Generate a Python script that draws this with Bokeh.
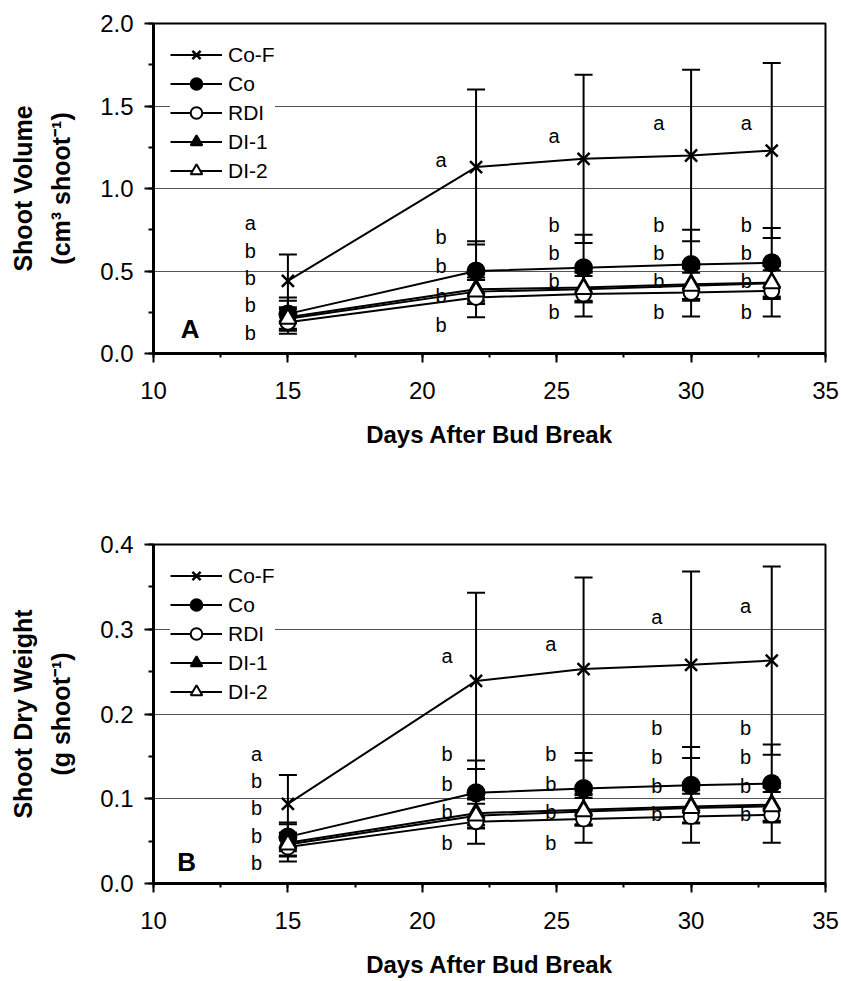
from bokeh.plotting import figure
from bokeh.models import (ColumnDataSource, Whisker, TeeHead, Legend, LegendItem, Range1d,
                          SingleIntervalTicker, NumeralTickFormatter)
from bokeh.layouts import column
from bokeh.embed import file_html
from bokeh.resources import INLINE
from bokeh.core.properties import value

FONT = "Liberation Sans"

days = [15, 22, 26, 30, 33]
series_names = ["Co-F", "Co", "RDI", "DI-1", "DI-2"]

# Panel A: shoot volume (cm3 shoot-1)
vol_cof = [0.44, 1.13, 1.18, 1.20, 1.23]
vol_cof_err = [0.16, 0.47, 0.51, 0.52, 0.53]
vol_co = [0.24, 0.50, 0.52, 0.54, 0.55]
vol_co_err = [0.10, 0.18, 0.20, 0.21, 0.21]
vol_rdi = [0.19, 0.34, 0.36, 0.37, 0.38]
vol_rdi_err = [0.05, 0.12, 0.135, 0.145, 0.155]
vol_di1 = [0.22, 0.39, 0.40, 0.42, 0.43]
vol_di1_err = [0.10, 0.09, 0.09, 0.10, 0.10]
vol_di2 = [0.21, 0.375, 0.39, 0.41, 0.425]
vol_di2_err = [0.06, 0.07, 0.08, 0.08, 0.08]

# Panel B: shoot dry weight (g shoot-1)
wt_cof = [0.094, 0.239, 0.253, 0.258, 0.263]
wt_cof_err = [0.034, 0.104, 0.108, 0.110, 0.111]
wt_co = [0.055, 0.107, 0.112, 0.116, 0.118]
wt_co_err = [0.017, 0.038, 0.042, 0.045, 0.046]
wt_rdi = [0.043, 0.073, 0.076, 0.079, 0.081]
wt_rdi_err = [0.010, 0.026, 0.028, 0.031, 0.033]
wt_di1 = [0.048, 0.083, 0.087, 0.091, 0.093]
wt_di1_err = [0.022, 0.018, 0.019, 0.020, 0.020]
wt_di2 = [0.046, 0.080, 0.085, 0.089, 0.091]
wt_di2_err = [0.014, 0.014, 0.016, 0.017, 0.017]

# Significance letters
letters = ["a", "b", "b", "b", "b"]
letA_x = [13.6, 20.7, 24.9, 28.8, 32.05]
letA_y = [[0.79, 0.62, 0.456, 0.295, 0.123],
          [1.17, 0.705, 0.529, 0.35, 0.17],
          [1.32, 0.78, 0.61, 0.438, 0.25],
          [1.40, 0.78, 0.61, 0.44, 0.25],
          [1.40, 0.78, 0.61, 0.44, 0.25]]
letB_x = [13.83, 20.92, 24.78, 28.72, 32.03]
letB_y = [[0.153, 0.121, 0.0886, 0.056, 0.024],
          [0.269, 0.153, 0.117, 0.084, 0.048],
          [0.283, 0.153, 0.117, 0.084, 0.048],
          [0.314, 0.184, 0.149, 0.115, 0.082],
          [0.327, 0.184, 0.149, 0.115, 0.082]]

panel_A_label = ("A", 11.36, 0.148)
panel_B_label = ("B", 11.23, 0.025)

styles = {
    "Co-F": dict(marker="x", fill="black", size=17),
    "Co": dict(marker="circle", fill="black", size=17),
    "RDI": dict(marker="circle", fill="white", size=15),
    "DI-1": dict(marker="triangle", fill="black", size=17),
    "DI-2": dict(marker="triangle", fill="white", size=17),
}


def make_panel(height, top, bottom, ymax, yint, ytitle, series, errs, let_x, let_y, plabel):
    p = figure(width=841, height=height, x_range=Range1d(10, 35), y_range=Range1d(0, ymax),
               output_backend="svg", toolbar_location=None,
               min_border_left=153, min_border_right=16, min_border_top=top,
               min_border_bottom=bottom, background_fill_color="white",
               border_fill_color="white")
    p.outline_line_color = "black"
    p.outline_line_width = 2
    p.xgrid.visible = False
    p.ygrid.grid_line_color = "#555555"
    p.ygrid.grid_line_width = 1

    p.xaxis.ticker = SingleIntervalTicker(interval=5, num_minor_ticks=2)
    p.yaxis.ticker = SingleIntervalTicker(interval=yint, num_minor_ticks=2)
    p.yaxis.formatter = NumeralTickFormatter(format="0.0")
    for ax in (p.xaxis[0], p.yaxis[0]):
        ax.axis_line_width = 3
        ax.axis_line_color = "black"
        ax.major_tick_line_width = 2
        ax.minor_tick_line_width = 2
        ax.major_tick_in = 0
        ax.minor_tick_in = 0
        ax.major_label_text_font = FONT
        ax.major_label_text_font_size = "24px"
        ax.major_label_text_color = "black"
        ax.axis_label_text_font = FONT
        ax.axis_label_text_font_style = "bold"
        ax.axis_label_text_color = "black"
    p.xaxis.major_tick_out = 9
    p.xaxis.minor_tick_out = 4
    p.yaxis.major_tick_out = 9
    p.yaxis.minor_tick_out = 5
    p.xaxis.major_label_standoff = 19
    p.yaxis.major_label_standoff = 11
    p.xaxis.axis_label = "Days After Bud Break"
    p.xaxis.axis_label_text_font_size = "24px"
    p.xaxis.axis_label_standoff = 19
    p.yaxis.axis_label = ytitle
    p.yaxis.axis_label_text_font_size = "25px"
    p.yaxis.axis_label_text_line_height = 1.35
    p.yaxis.axis_label_standoff = 22

    items = []
    for name in series_names:
        st = styles[name]
        vals = series[name]
        err = errs[name]
        src = ColumnDataSource(dict(x=days, y=vals,
                                    lo=[v - e for v, e in zip(vals, err)],
                                    hi=[v + e for v, e in zip(vals, err)]))
        lr = p.line("x", "y", source=src, line_color="black", line_width=2)
        w = Whisker(source=src, base="x", lower="lo", upper="hi", dimension="height",
                    line_color="black", line_width=2,
                    upper_head=TeeHead(size=18, line_width=2, line_color="black"),
                    lower_head=TeeHead(size=18, line_width=2, line_color="black"))
        p.add_layout(w)
        sr = p.scatter("x", "y", source=src, marker=st["marker"], size=st["size"],
                       fill_color=st["fill"], line_color="black", line_width=2.5 if name == "Co-F" else 2)
        items.append(LegendItem(label=name, renderers=[lr, sr]))

    legend = Legend(items=items, location="top_left", margin=17, padding=10,
                    glyph_width=52, glyph_height=29, spacing=0, label_standoff=6,
                    label_text_font=FONT, label_text_font_size="21px",
                    label_text_color="black", border_line_color=None,
                    background_fill_color="white", background_fill_alpha=1.0)
    p.add_layout(legend)

    lx, ly, lt = [], [], []
    for i, xv in enumerate(let_x):
        for j, yv in enumerate(let_y[i]):
            lx.append(xv)
            ly.append(yv)
            lt.append(letters[j])
    p.text(x=lx, y=ly, text=lt, text_font=value(FONT), text_font_size="20px",
           text_align="center", text_baseline="middle", text_color="black")
    p.text(x=[plabel[1]], y=[plabel[2]], text=[plabel[0]], text_font=value(FONT),
           text_font_size="26px", text_font_style="bold", text_align="center",
           text_baseline="middle", text_color="black")
    return p


pA = make_panel(460, 23, 107, 2.0, 0.5, "Shoot Volume\n(cm\u00b3 shoot\u207b\u00b9)",
                {"Co-F": vol_cof, "Co": vol_co, "RDI": vol_rdi, "DI-1": vol_di1, "DI-2": vol_di2},
                {"Co-F": vol_cof_err, "Co": vol_co_err, "RDI": vol_rdi_err,
                 "DI-1": vol_di1_err, "DI-2": vol_di2_err},
                letA_x, letA_y, panel_A_label)
pB = make_panel(521, 84, 98, 0.4, 0.1, "Shoot Dry Weight\n(g shoot\u207b\u00b9)",
                {"Co-F": wt_cof, "Co": wt_co, "RDI": wt_rdi, "DI-1": wt_di1, "DI-2": wt_di2},
                {"Co-F": wt_cof_err, "Co": wt_co_err, "RDI": wt_rdi_err,
                 "DI-1": wt_di1_err, "DI-2": wt_di2_err},
                letB_x, letB_y, panel_B_label)

layout = column(pA, pB)
open("out.html", "w").write(file_html(layout, INLINE))
